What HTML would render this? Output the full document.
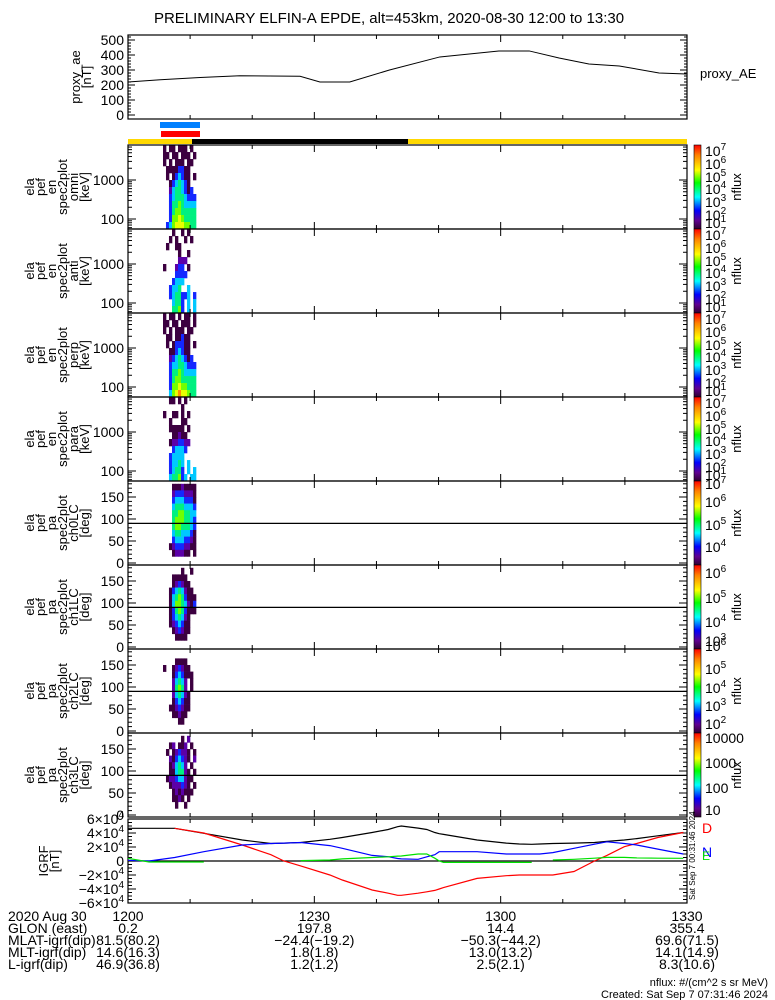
<!DOCTYPE html>
<html><head><meta charset="utf-8"><style>
html,body{margin:0;padding:0;background:#fff}
svg{display:block}
text{font-family:"Liberation Sans",sans-serif}
</style></head><body>
<svg id="chart" width="775" height="1000" viewBox="0 0 775 1000" xmlns="http://www.w3.org/2000/svg">
<text x="389" y="23" font-size="15" text-anchor="middle">PRELIMINARY ELFIN-A EPDE, alt=453km, 2020-08-30 12:00 to 13:30</text>
<g id="g"></g>
</svg>
<script>
// ---- data ----
const aeMinutes=[0,5.2,11.6,18.0,27.7,30.9,35.7,42.1,50.2,59.7,64.6,69.4,74.2,79.1,85.5,89.9];
const aeValues=[220,235,250,262,258,220,220,300,387,427,427,380,340,327,280,273];
const igrfMinutes=[0,3.4,7.5,12.2,18.4,23,25.1,27.8,32.5,34.5,39.3,41.9,43.4,44,46.7,48.1,49.4,50.1,50.8,56.2,60.9,63,65,66.3,68.4,71.8,75.1,77.1,79.9,81.9,85.3,89.4];
const igrfBlack=[46700,46700,46700,39600,30000,25000,25500,26400,31000,33600,40700,45000,49000,50000,47000,45000,40700,39000,38000,30000,25500,24300,23800,24300,25000,25500,26400,28000,30000,32000,36000,40700];
const igrfRed=[null,null,46700,40000,22900,9000,0,-7000,-20000,-27100,-41400,-46000,-49000,-49000,-46000,-44000,-42000,-40000,-38000,-24800,-21000,-20000,-20000,-20000,-20000,-15000,0,8000,20400,25000,33600,40700];
const igrfBlue=[1000,0,5000,13300,22900,25000,25500,26400,22000,18100,8000,6200,3500,3000,2400,6000,9000,13300,13300,13300,10000,10000,10000,10000,12000,18100,24000,27400,25000,22900,17000,10000];
const igrfGreen=[3800,-1400,-1400,-1400,null,null,null,500,1500,3000,5000,6000,7000,7200,10000,10000,4000,0,-2000,-2000,-2000,-2000,-2000,null,1400,2500,4000,5200,5200,4500,4000,3800];
const timeCols=[5.39,5.88,6.36,6.84,7.33,7.81,8.29,8.78,9.26,9.74,10.23,10.71,11.19];
const energyBins=[6430,4250,2810,1860,1230,813,538,356,235,155,103,68];
const paBins=[172.5,157.5,142.5,127.5,112.5,97.5,82.5,67.5,52.5,37.5,22.5,7.5];
const specOmni=["0101101110100","0110110111010","0101011101100","0011113311000","0010134311010","0001345431000","0002455431300","0003455543330","0003556544440","0003566555550","0003667655550","0034677766550"];
const specAnti=["0000100101000","0001010010100","0010011000000","0000001001000","0000002220000","0100023301000","0000033330000","0000344400000","0003445004000","0003455334030","0000455304040","0000556304040"];
const specPerp=["0101101011010","0110110111010","0101011101100","0011011311000","0010133311010","0001134311000","0002345431300","0003445543330","0003556544440","0003566555550","0003667665550","0004678776550"];
const specPara=["0001101010000","0000000100000","0100110101000","0001000110000","0001111101000","0000112110000","0001223322000","0000344430000","0003444400000","0003445404000","0003455304040","0004556340440"];
const specCh0=["0000111211110","0000233322210","0000344433310","0000455544430","0000556655440","0000566655430","0000566555430","0000455444310","0000344433210","0001233322110","0000122211010","0000000000000"];
const specCh1=["0000000100100","0000111110000","0000123211000","0001345421100","0001456531110","0001466542130","0001356531110","0001345421000","0001234311000","0000123211000","0000011110000","0000000000000"];
const specCh2=["0000000000000","0000011110000","0100123211000","0000134311100","0000245420100","0000256520100","0000245421000","0000134311000","0001123211000","0000112110000","0000001100000","0000000000000"];
const specCh3=["0000000102000","0001201120100","0010123221010","0002134321020","0001245420100","0001145521010","0012234421100","0001222321010","0000121211100","0000112101000","0000010010000","0000000000000"];

// ---- helpers ----
const NS="http://www.w3.org/2000/svg";
const G=document.getElementById('g');
const X0=128,X1=687;
const xT=m=>X0+(X1-X0)*m/90;
function el(t,a,p){const e=document.createElementNS(NS,t);for(const k in a)e.setAttribute(k,a[k]);(p||G).appendChild(e);return e;}
const levelColors=['none','#3c0040','#5c00a8','#1428ff','#00c8ff','#00f080','#70ff00','#e8ff00','#ff9000'];

function frame(top,bot,name){
  const r=el('rect',{x:X0,y:top,width:X1-X0,height:bot-top,fill:'none',stroke:'#000','stroke-width':1.2});
  
  
  for(let m=0;m<=90;m+=10){const L=(m%30===0)?7:4;
    el('line',{x1:xT(m),x2:xT(m),y1:top,y2:top+L,stroke:'#000'});
    el('line',{x1:xT(m),x2:xT(m),y1:bot,y2:bot-L,stroke:'#000'});}
}
function yTick(y,L){el('line',{x1:X0,x2:X0+L,y1:y,y2:y,stroke:'#000'});el('line',{x1:X1,x2:X1-L,y1:y,y2:y,stroke:'#000'});}
function label(x,y,s,anchor,size,name,col){const t=el('text',{x:x,y:y,'font-size':size||13,'text-anchor':anchor||'end',style:'fill:'+(col||'#000')});t.textContent=s;return t;}
function leftLabel(lines,cy,x0,name){
  const gg=el('g',{});
  lines.forEach((s,i)=>{const x=x0+i*11;const t=el('text',{x:0,y:0,'font-size':13,'text-anchor':'middle',transform:`translate(${x+4},${cy}) rotate(-90)`},gg);t.textContent=s;});
}
function colorbar(top,bot,labels,name){
  const r=el('rect',{x:694,y:top,width:7,height:bot-top,fill:'url(#cb)',stroke:'#000','stroke-width':0.6});
  
  
  labels.forEach(([y,b,e])=>{const t=el('text',{x:705,y:y+5,'font-size':14});t.textContent=b;if(e){const s=el('tspan',{dy:-6,'font-size':10},t);s.textContent=e;}});
  const n=el('text',{x:0,y:0,'font-size':13,'text-anchor':'middle',transform:`translate(741,${(top+bot)/2}) rotate(-90)`});n.textContent='nflux';
  
  
}
function drawSpec(rows,yCenters,yScale,name,top,bot){
  const n=yCenters.length;
  rows.forEach((row,i)=>{
    const yc=yScale(yCenters[i]);
    const yPrev=i>0?yScale(yCenters[i-1]):yc-(yScale(yCenters[i+1])-yc);
    const yNext=i<n-1?yScale(yCenters[i+1]):yc+(yc-yScale(yCenters[i-1]));
    let ya=Math.max(top,(yPrev+yc)/2),yb=Math.min(bot,(yc+yNext)/2);
    for(let j=0;j<row.length;j++){const lv=+row[j];if(!lv)continue;
      const xc=xT(timeCols[j]);const w=xT(timeCols[1])-xT(timeCols[0]);
      const c=el('rect',{x:xc-w/2,y:ya,width:w+0.3,height:yb-ya+0.3,fill:levelColors[lv]});
      
      }
  });
}
// gradient
const defs=el('defs',{},document.getElementById('chart'));
const gr=el('linearGradient',{id:'cb',x1:0,y1:0,x2:0,y2:1},defs);
[[0,'#ff0000'],[0.12,'#ff8000'],[0.3,'#ffff00'],[0.45,'#00ff00'],[0.62,'#00ffff'],[0.78,'#0000ff'],[0.9,'#600090'],[1,'#300030']].forEach(([o,c])=>el('stop',{offset:o,'stop-color':c},gr));

// ---- proxy AE ----
const aeTop=35,aeBot=119;const yAE=v=>115-v*0.15;
for(let v=0;v<=520;v+=20)yTick(yAE(v),v%100===0?7:3);
frame(aeTop,aeBot,'proxy-ae');
[0,100,200,300,400,500].forEach(v=>label(124,yAE(v)+5,String(v),'end',14,'ae-tick-label'));
{let d='';aeMinutes.forEach((m,i)=>d+=(i?'L':'M')+xT(m)+' '+yAE(aeValues[i]));
 const p=el('path',{d:d,fill:'none',stroke:'#000','stroke-width':1});}
leftLabel(['proxy_ae','[nT]'],77,76,'proxy-ae-axis-title');
label(700,78,'proxy_AE','start',13,'proxy-ae-legend');

// ---- bars ----
[[160,122,200,128,'#0080ff','blue-bar'],[161,131,200,137,'#ff0000','red-bar'],[128,139,192,144,'#ffd800','yellow-bar-1'],[192,139,408,144,'#000','black-bar'],[408,139,687,144,'#ffd800','yellow-bar-2']].forEach(([a,b,c,d,f,n])=>{const r=el('rect',{x:a,y:b,width:c-a,height:d-b,fill:f});});

// ---- energy panels ----
const ePanels=[[specOmni,'omni',145,229],[specAnti,'anti',229,313],[specPerp,'perp',313,397],[specPara,'para',397,481]];
const eCB=[[0,'10','7'],[13,'10','6'],[26,'10','5'],[38,'10','4'],[51,'10','3'],[64,'10','2'],[72,'10','1']];
ePanels.forEach(([rows,nm,top,bot])=>{
  const yE=E=>top+35-39*(Math.log10(E)-3);
  drawSpec(rows,energyBins,yE,'spec-'+nm,top,bot);
  for(let dec=1;dec<=4;dec++)for(let k=1;k<10;k++){const y=yE(k*Math.pow(10,dec));if(y>top&&y<bot)yTick(y,k===1?8:4);}
  frame(top,bot,'energy-'+nm);
  label(124,yE(1000)+5,'1000','end',14,'energy-tick-label');
  label(124,yE(100)+5,'100','end',14,'energy-tick-label');
  leftLabel(['ela','pef','en','spec2plot',nm,'[keV]'],(top+bot)/2,30,'energy-'+nm+'-axis-title');
  colorbar(top,bot,eCB.map(([o,b,e])=>[top+6+o,b,e]),'energy-'+nm);
});

// ---- pitch-angle panels ----
const paPanels=[[specCh0,'ch0LC',481,565,[[489,'10','7'],[507,'10','6'],[530,'10','5'],[552,'10','4']]],
 [specCh1,'ch1LC',565,649,[[578,'10','6'],[603,'10','5'],[627,'10','4'],[646,'10','3']]],
 [specCh2,'ch2LC',649,733,[[651,'10','6'],[674,'10','5'],[693,'10','4'],[711,'10','3'],[729,'10','2']]],
 [specCh3,'ch3LC',733,817,[[743,'10000'],[768,'1000'],[793,'100'],[815,'10']]]];
paPanels.forEach(([rows,nm,top,bot,cb])=>{
  const yP=p=>bot-2-0.44*p;
  drawSpec(rows,paBins,yP,'spec-'+nm,top,bot);
  for(let p=0;p<=180;p+=10)yTick(yP(p),p%50===0?8:4);
  frame(top,bot,'pa-'+nm);
  el('line',{x1:X0,x2:X1,y1:yP(90),y2:yP(90),stroke:'#000','stroke-width':1.2});
  [0,50,100,150].forEach(v=>label(124,yP(v)+5,String(v),'end',14,'pa-tick-label'));
  leftLabel(['ela','pef','pa','spec2plot',nm,'[deg]'],(top+bot)/2,30,'pa-'+nm+'-axis-title');
  colorbar(top,bot,cb.map(([y,b,e])=>[y-5,b,e]),'pa-'+nm);
});

// ---- IGRF ----
const iTop=819,iBot=903;const yI=v=>861-v*42/60000;
for(let v=-60000;v<=60000;v+=5000)yTick(yI(v),v%20000===0?8:4);
frame(iTop,iBot,'igrf');
el('line',{x1:X0,x2:X1,y1:yI(0),y2:yI(0),stroke:'#000','stroke-width':1.2});
[60000,40000,20000,0,-20000,-40000,-60000].forEach(v=>{
  const t=label(124,yI(v)+5,'','end',14,'igrf-tick-label');
  if(v===0){t.textContent='0';return;}
  const s1=el('tspan',{},t);s1.textContent=(v<0?'\u2212':'')+Math.abs(v/10000)+'\u00d710';
  const s2=el('tspan',{dy:-6,'font-size':10},t);s2.textContent='4';});
[[igrfBlack,'#000','igrf-black'],[igrfRed,'#ff0000','igrf-d'],[igrfBlue,'#0000ff','igrf-n'],[igrfGreen,'#00e000','igrf-e']].forEach(([arr,c,n])=>{
  let d='',pen=false;arr.forEach((v,i)=>{if(v===null){pen=false;return;}d+=(pen?'L':'M')+xT(igrfMinutes[i]).toFixed(1)+' '+yI(v).toFixed(1);pen=true;});
  const p=el('path',{d:d,fill:'none',stroke:c,'stroke-width':1.2});});
leftLabel(['IGRF','[nT]'],861,44,'igrf-axis-title');
label(702,833,'D','start',14,'legend-d','#ff0000');
label(702,857,'N','start',14,'legend-n','#0000ff');
label(702,860,'E','start',12,'legend-e','#00e000');
{const t=el('text',{x:0,y:0,'font-size':8,'text-anchor':'start',transform:'translate(695,900) rotate(-90)'});t.textContent='Sat Sep  7 00:31:46 2024';}

// ---- bottom annotation ----
const rowLabels=['2020 Aug 30','GLON (east)','MLAT-igrf(dip)','MLT-igrf(dip)','L-igrf(dip)'];
const rowY=[921,933,945,957,969];
const colMinutes=[0,30,60,90];
const colVals=[['1200','0.2','81.5(80.2)','14.6(16.3)','46.9(36.8)'],['1230','197.8','\u221224.4(\u221219.2)','1.8(1.8)','1.2(1.2)'],['1300','14.4','\u221250.3(\u221244.2)','13.0(13.2)','2.5(2.1)'],['1330','355.4','69.6(71.5)','14.1(14.9)','8.3(10.6)']];
rowLabels.forEach((s,i)=>label(8,rowY[i],s,'start',14,'annotation-row-label'));
colVals.forEach((c,j)=>c.forEach((s,i)=>label(xT(colMinutes[j]),rowY[i],s,'middle',14,'annotation-value')));
label(768,986,'nflux: #/(cm^2 s sr MeV)','end',11,'units-note');
label(768,998,'Created: Sat Sep  7 07:31:46 2024','end',11,'created-note');
</script>
</body></html>
